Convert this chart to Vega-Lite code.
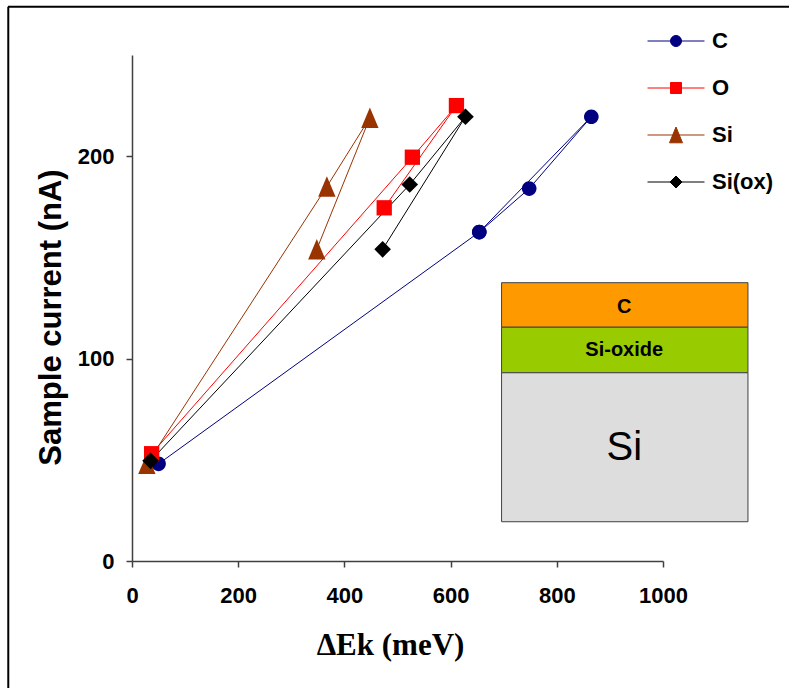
{
  "$schema": "https://vega.github.io/schema/vega-lite/v6.json",
  "width": 531,
  "height": 506,
  "autosize": "none",
  "padding": {"left": 132, "top": 55, "right": 126, "bottom": 127},
  "background": "white",
  "config": {"view": {"stroke": null}, "font": "Liberation Sans"},
  "datasets": {
    "series": [
      {"series": "C", "i": 1, "x": 50, "y": 48},
      {"series": "C", "i": 2, "x": 654, "y": 162.5},
      {"series": "C", "i": 3, "x": 748, "y": 184},
      {"series": "C", "i": 4, "x": 865, "y": 219.5},
      {"series": "C", "i": 5, "x": 654, "y": 162.5},
      {"series": "O", "i": 1, "x": 37, "y": 53},
      {"series": "O", "i": 2, "x": 528, "y": 199.5},
      {"series": "O", "i": 3, "x": 611, "y": 225},
      {"series": "O", "i": 4, "x": 475, "y": 174.5},
      {"series": "Si", "i": 1, "x": 28, "y": 48},
      {"series": "Si", "i": 2, "x": 367, "y": 185},
      {"series": "Si", "i": 3, "x": 448, "y": 219},
      {"series": "Si", "i": 4, "x": 348, "y": 154},
      {"series": "Si(ox)", "i": 1, "x": 35, "y": 49.5},
      {"series": "Si(ox)", "i": 2, "x": 523, "y": 186},
      {"series": "Si(ox)", "i": 3, "x": 628, "y": 219.5},
      {"series": "Si(ox)", "i": 4, "x": 472, "y": 154}
    ],
    "inset": [
      {"layer": "C", "x": 696, "x2": 1160, "y": 115.5, "y2": 137.5},
      {"layer": "Si-oxide", "x": 696, "x2": 1160, "y": 93, "y2": 115.5},
      {"layer": "Si", "x": 696, "x2": 1160, "y": 19.4, "y2": 93}
    ],
    "insetLabels": [
      {"label": "C", "x": 927, "y": 125.6},
      {"label": "Si-oxide", "x": 927, "y": 104.1},
      {"label": "Si", "x": 927, "y": 55.8}
    ]
  },
  "layer": [
    {
      "data": {"name": "series"},
      "mark": {"type": "line", "strokeWidth": 1},
      "encoding": {
        "x": {
          "field": "x", "type": "quantitative",
          "scale": {"domain": [0, 1000], "nice": false, "zero": false},
          "axis": {
            "title": "ΔEk (meV)", "values": [0, 200, 400, 600, 800, 1000], "format": "d", "grid": false,
            "domainColor": "#404040", "domainWidth": 1.5, "tickColor": "#404040", "tickSize": 6, "tickWidth": 1.5,
            "labelFont": "Liberation Sans", "labelFontWeight": "bold", "labelFontSize": 22, "labelColor": "black",
            "labelPadding": 18, "labelFlush": false, "labelOverlap": false,
            "titleFont": "Liberation Serif", "titleFontSize": 31, "titleFontWeight": "bold", "titleColor": "black",
            "titlePadding": 24, "titleX": 258
          }
        },
        "y": {
          "field": "y", "type": "quantitative",
          "scale": {"domain": [0, 250], "nice": false, "zero": false},
          "axis": {
            "title": "Sample current (nA)", "values": [0, 100, 200], "grid": false,
            "domainColor": "#404040", "domainWidth": 1.5, "tickColor": "#404040", "tickSize": 6, "tickWidth": 1.5,
            "labelFont": "Liberation Sans", "labelFontWeight": "bold", "labelFontSize": 22, "labelColor": "black",
            "labelPadding": 12, "labelFlush": false, "labelOverlap": false,
            "titleFont": "Liberation Sans", "titleFontSize": 31, "titleFontWeight": "bold", "titleColor": "black",
            "titlePadding": 10, "titleY": 262
          }
        },
        "color": {
          "field": "series", "type": "nominal",
          "scale": {"domain": ["C", "O", "Si", "Si(ox)"], "range": ["#000080", "#FF0000", "#993300", "#000000"]},
          "legend": {
            "orient": "none", "legendX": 533, "legendY": -25, "title": null,
            "symbolSize": 400, "padding": 0, "rowPadding": 25, "labelOffset": 25,
            "labelFont": "Liberation Sans", "labelFontSize": 22, "labelFontWeight": "bold", "labelColor": "black",
            "encode": {
              "symbols": {
                "update": {
                  "shape": {"signal": "datum.value === 'C' ? 'M-2.85,0H2.85M-0.55,0A0.55,0.55,0,1,0,0.55,0A0.55,0.55,0,1,0,-0.55,0Z' : datum.value === 'O' ? 'M-2.85,0H2.85M-0.55,-0.55H0.55V0.55H-0.55Z' : datum.value === 'Si' ? 'M-2.85,0H2.85M0,-0.8L0.65,0.78H-0.65Z' : 'M-2.85,0H2.85M0,-0.6L0.6,0L0,0.6L-0.6,0Z'"},
                  "fill": {"signal": "scale('color', datum.value)"},
                  "stroke": {"signal": "scale('color', datum.value)"},
                  "strokeWidth": {"value": 1},
                  "opacity": {"value": 1},
                  "fillOpacity": {"value": 1},
                  "strokeOpacity": {"value": 1}
                }
              }
            }
          }
        },
        "order": {"field": "i", "type": "quantitative"}
      }
    },
    {
      "data": {"values": [{"frame": 1}]},
      "mark": {"type": "rule", "color": "#000000", "strokeWidth": 2, "clip": false},
      "encoding": {
        "x": {"datum": -233, "type": "quantitative", "scale": {"domain": [0, 1000], "nice": false, "zero": false}},
        "y": {"datum": 273.8, "type": "quantitative", "scale": {"domain": [0, 250], "nice": false, "zero": false}},
        "y2": {"datum": -100}
      }
    },
    {
      "data": {"values": [{"frame": 1}]},
      "mark": {"type": "rule", "color": "#000000", "strokeWidth": 2, "clip": false},
      "encoding": {
        "x": {"datum": -233.5, "type": "quantitative", "scale": {"domain": [0, 1000], "nice": false, "zero": false}},
        "x2": {"datum": 1400},
        "y": {"datum": 273.8, "type": "quantitative", "scale": {"domain": [0, 250], "nice": false, "zero": false}}
      }
    },
    {
      "data": {"name": "inset"},
      "mark": {"type": "rect", "stroke": "#404040", "strokeWidth": 1},
      "encoding": {
        "x": {"field": "x", "type": "quantitative", "scale": {"domain": [0, 1000], "nice": false, "zero": false}},
        "x2": {"field": "x2"},
        "y": {"field": "y", "type": "quantitative", "scale": {"domain": [0, 250], "nice": false, "zero": false}},
        "y2": {"field": "y2"},
        "fill": {
          "field": "layer", "type": "nominal",
          "scale": {"domain": ["C", "Si-oxide", "Si"], "range": ["#FF9900", "#99CC00", "#DDDDDD"]},
          "legend": null
        }
      }
    },
    {
      "data": {"name": "insetLabels"},
      "transform": [{"filter": "datum.label !== 'Si'"}],
      "mark": {"type": "text", "font": "Liberation Sans", "fontWeight": "bold", "fontSize": 20, "color": "black", "align": "center", "baseline": "middle"},
      "encoding": {
        "x": {"field": "x", "type": "quantitative", "scale": {"domain": [0, 1000], "nice": false, "zero": false}},
        "y": {"field": "y", "type": "quantitative", "scale": {"domain": [0, 250], "nice": false, "zero": false}},
        "text": {"field": "label"}
      }
    },
    {
      "data": {"name": "insetLabels"},
      "transform": [{"filter": "datum.label === 'Si'"}],
      "mark": {"type": "text", "font": "Liberation Sans", "fontSize": 40, "color": "black", "align": "center", "baseline": "middle"},
      "encoding": {
        "x": {"field": "x", "type": "quantitative", "scale": {"domain": [0, 1000], "nice": false, "zero": false}},
        "y": {"field": "y", "type": "quantitative", "scale": {"domain": [0, 250], "nice": false, "zero": false}},
        "text": {"field": "label"}
      }
    },
    {
      "data": {"name": "series"},
      "transform": [{"filter": "datum.series === 'C'"}],
      "mark": {"type": "point", "filled": true, "size": 289, "opacity": 1, "shape": "M-0.86,0A0.86,0.86,0,1,0,0.86,0A0.86,0.86,0,1,0,-0.86,0Z"},
      "encoding": {
        "x": {"field": "x", "type": "quantitative", "scale": {"domain": [0, 1000], "nice": false, "zero": false}},
        "y": {"field": "y", "type": "quantitative", "scale": {"domain": [0, 250], "nice": false, "zero": false}},
        "color": {"field": "series", "type": "nominal"}
      }
    },
    {
      "data": {"name": "series"},
      "transform": [{"filter": "datum.series === 'O'"}],
      "mark": {"type": "point", "filled": true, "size": 289, "opacity": 1, "shape": "M-0.9,-0.9H0.9V0.9H-0.9Z"},
      "encoding": {
        "x": {"field": "x", "type": "quantitative", "scale": {"domain": [0, 1000], "nice": false, "zero": false}},
        "y": {"field": "y", "type": "quantitative", "scale": {"domain": [0, 250], "nice": false, "zero": false}},
        "color": {"field": "series", "type": "nominal"}
      }
    },
    {
      "data": {"name": "series"},
      "transform": [{"filter": "datum.series === 'Si'"}],
      "mark": {"type": "point", "filled": true, "size": 289, "opacity": 1, "shape": "M0,-1.2L1.02,1.2H-1.02Z"},
      "encoding": {
        "x": {"field": "x", "type": "quantitative", "scale": {"domain": [0, 1000], "nice": false, "zero": false}},
        "y": {"field": "y", "type": "quantitative", "scale": {"domain": [0, 250], "nice": false, "zero": false}},
        "color": {"field": "series", "type": "nominal"}
      }
    },
    {
      "data": {"name": "series"},
      "transform": [{"filter": "datum.series === 'Si(ox)'"}],
      "mark": {"type": "point", "filled": true, "size": 289, "opacity": 1, "shape": "M0,-0.98L0.98,0L0,0.98L-0.98,0Z"},
      "encoding": {
        "x": {"field": "x", "type": "quantitative", "scale": {"domain": [0, 1000], "nice": false, "zero": false}},
        "y": {"field": "y", "type": "quantitative", "scale": {"domain": [0, 250], "nice": false, "zero": false}},
        "color": {"field": "series", "type": "nominal"}
      }
    }
  ]
}
